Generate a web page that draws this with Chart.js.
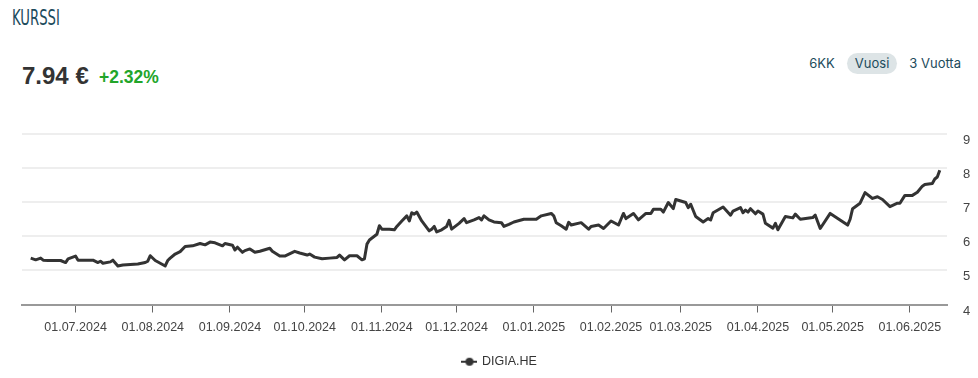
<!DOCTYPE html>
<html lang="fi">
<head>
<meta charset="utf-8">
<title>Kurssi</title>
<script src="https://cdn.jsdelivr.net/npm/chart.js@4.4.0/dist/chart.umd.min.js"></script>
<style>
    html, body { margin: 0; padding: 0; background: #fff; }
    body { width: 978px; height: 378px; position: relative; overflow: hidden; font-family: "Liberation Sans", Arial, sans-serif; }
    .title { position: absolute; left: 12px; top: 6px; font-family: "Liberation Sans Narrow", "DejaVu Sans Condensed", sans-serif; font-size: 21px; color: #1c4b5c; transform: scaleX(0.7); transform-origin: left top; }
    .price { position: absolute; left: 22px; top: 62px; font-size: 24px; font-weight: bold; color: #333; }
    .change { position: absolute; left: 99px; top: 67px; font-size: 17.5px; font-weight: bold; color: #22a52a; }
    .ranges { position: absolute; right: 9px; top: 53px; font-family: Inter, "Open Sans", sans-serif; font-size: 13px; color: #1c4b5c; display: flex; align-items: center; }
    .ranges span { padding: 3px 8px; border-radius: 11px; line-height: 15px; margin-left: 4px; }
    .ranges span.active { background: #dde4e6; }
    #chartBox { position: absolute; left: 0; top: 100px; }
</style>
</head>
<body>
<div class="title">KURSSI</div>
<div class="price">7.94 €</div>
<div class="change">+2.32%</div>
<div class="ranges"><span>6KK</span><span class="active">Vuosi</span><span>3 Vuotta</span></div>
<canvas id="chartBox" width="978" height="278"></canvas>

<script>
// Päivämäärät ja päätöskurssit (luettu kuvasta)
const dates = [
    '2024-06-13','2024-06-15','2024-06-17','2024-06-18','2024-06-20','2024-06-25','2024-06-27','2024-06-28',
    '2024-07-01','2024-07-02','2024-07-08','2024-07-10','2024-07-11','2024-07-12','2024-07-15','2024-07-16',
    '2024-07-18','2024-07-20','2024-07-26','2024-07-29','2024-07-30','2024-07-31',
    '2024-08-02','2024-08-06','2024-08-07','2024-08-08','2024-08-10','2024-08-12','2024-08-14','2024-08-17',
    '2024-08-20','2024-08-22','2024-08-24','2024-08-26','2024-08-29','2024-08-30',
    '2024-09-02','2024-09-03','2024-09-04','2024-09-06','2024-09-07','2024-09-09','2024-09-11','2024-09-13',
    '2024-09-17','2024-09-18','2024-09-21','2024-09-23','2024-09-27','2024-09-29',
    '2024-10-02','2024-10-03','2024-10-05','2024-10-08','2024-10-11','2024-10-14','2024-10-15','2024-10-17',
    '2024-10-19','2024-10-22','2024-10-24','2024-10-25','2024-10-26','2024-10-27','2024-10-30','2024-10-31',
    '2024-11-01','2024-11-04','2024-11-06','2024-11-07','2024-11-09','2024-11-11','2024-11-12','2024-11-13',
    '2024-11-14','2024-11-15','2024-11-17','2024-11-20','2024-11-21','2024-11-22','2024-11-23','2024-11-25',
    '2024-11-27','2024-11-28','2024-11-29',
    '2024-12-02','2024-12-04','2024-12-05','2024-12-08','2024-12-10','2024-12-11','2024-12-12','2024-12-14',
    '2024-12-16','2024-12-19','2024-12-20','2024-12-22','2024-12-24','2024-12-28',
    '2025-01-02','2025-01-04','2025-01-08','2025-01-09','2025-01-10','2025-01-12','2025-01-14','2025-01-15',
    '2025-01-16','2025-01-20','2025-01-23','2025-01-24','2025-01-27','2025-01-29',
    '2025-02-01','2025-02-04','2025-02-05','2025-02-06','2025-02-07','2025-02-10','2025-02-12','2025-02-15',
    '2025-02-17','2025-02-18','2025-02-21','2025-02-22','2025-02-24','2025-02-26','2025-02-27',
    '2025-03-03','2025-03-04','2025-03-05','2025-03-07','2025-03-10','2025-03-12','2025-03-13','2025-03-14',
    '2025-03-18','2025-03-21','2025-03-22','2025-03-25','2025-03-26','2025-03-27','2025-03-28','2025-03-29',
    '2025-03-31','2025-04-01','2025-04-03','2025-04-04','2025-04-07','2025-04-08','2025-04-09','2025-04-12',
    '2025-04-15','2025-04-16','2025-04-18','2025-04-23','2025-04-24','2025-04-26','2025-04-30',
    '2025-05-07','2025-05-08','2025-05-09','2025-05-12','2025-05-14','2025-05-17','2025-05-19','2025-05-21',
    '2025-05-24','2025-05-27','2025-05-28','2025-05-30',
    '2025-06-02','2025-06-04','2025-06-06','2025-06-07','2025-06-10','2025-06-11','2025-06-12','2025-06-13'
];
const prices = [
    5.36,5.31,5.36,5.30,5.29,5.29,5.23,5.34,
    5.42,5.30,5.30,5.23,5.27,5.21,5.25,5.30,
    5.13,5.16,5.19,5.23,5.27,5.43,
    5.29,5.13,5.29,5.36,5.48,5.55,5.70,5.72,
    5.79,5.75,5.83,5.81,5.72,5.79,
    5.74,5.60,5.68,5.53,5.58,5.63,5.53,5.56,
    5.65,5.56,5.42,5.42,5.56,5.51,
    5.45,5.48,5.39,5.34,5.36,5.38,5.45,5.31,
    5.43,5.43,5.31,5.34,5.77,5.89,6.06,6.31,
    6.21,6.21,6.19,6.29,6.45,6.60,6.45,6.69,
    6.65,6.71,6.45,6.16,6.21,6.29,6.13,6.19,
    6.29,6.47,6.21,
    6.38,6.52,6.40,6.48,6.55,6.48,6.60,6.48,
    6.42,6.40,6.29,6.35,6.42,6.50,
    6.50,6.60,6.67,6.60,6.40,6.31,6.21,6.41,
    6.33,6.40,6.21,6.29,6.33,6.23,
    6.45,6.33,6.50,6.67,6.52,6.67,6.48,6.67,
    6.67,6.79,6.79,6.71,6.99,6.81,7.08,
    6.99,6.84,6.94,6.58,6.42,6.52,6.48,6.69,
    6.86,6.62,6.74,6.84,6.69,6.77,6.71,6.81,
    6.66,6.74,6.65,6.38,6.24,6.38,6.19,6.58,
    6.54,6.65,6.50,6.55,6.62,6.23,6.67,
    6.33,6.50,6.81,6.97,7.28,7.11,7.16,7.08,
    6.87,6.97,6.97,7.20,
    7.20,7.29,7.47,7.52,7.55,7.68,7.74,7.94
];
const tickDates = [
    '2024-07-01','2024-08-01','2024-09-01','2024-10-01','2024-11-01','2024-12-01',
    '2025-01-01','2025-02-01','2025-03-01','2025-04-01','2025-05-01','2025-06-01'
];
const yTicks = [4, 5, 6, 7, 8, 9];
const seriesName = 'DIGIA.HE';

const DAY = 86400000;
const points = dates.map((d, i) => ({ x: Date.parse(d), y: prices[i] }));

function fmtDate(v) {
    const d = new Date(v);
    const dd = String(d.getUTCDate()).padStart(2, '0');
    const mm = String(d.getUTCMonth() + 1).padStart(2, '0');
    return dd + '.' + mm + '.' + d.getUTCFullYear();
}

// legendan merkki: viiva + pallo
const marker = document.createElement('canvas');
marker.width = 16; marker.height = 10;
(function () {
    const c = marker.getContext('2d');
    c.strokeStyle = '#333'; c.lineWidth = 2;
    c.beginPath(); c.moveTo(0, 5); c.lineTo(16, 5); c.stroke();
    c.fillStyle = '#333';
    c.beginPath(); c.arc(8, 5, 4, 0, Math.PI * 2); c.fill();
})();

new Chart(document.getElementById('chartBox'), {
    type: 'line',
    data: {
        datasets: [{
            label: seriesName,
            data: points,
            borderColor: '#333333',
            backgroundColor: '#333333',
            borderWidth: 3,
            pointRadius: 0,
            tension: 0,
            borderJoinStyle: 'round'
        }]
    },
    options: {
        responsive: false,
        animation: false,
        layout: { padding: { left: 22, top: 34, right: 0, bottom: 0 } },
        scales: {
            x: {
                type: 'linear',
                min: Date.parse(dates[0]) - 3.5 * DAY,
                max: Date.parse(dates[dates.length - 1]) + 2.9 * DAY,
                afterBuildTicks: s => { s.ticks = tickDates.map(d => ({ value: Date.parse(d) })); },
                afterFit: s => { s.height += 2; },
                ticks: {
                    callback: v => fmtDate(v),
                    color: '#444',
                    font: { family: 'Liberation Sans', size: 12.5 },
                    maxRotation: 0,
                    autoSkip: false,
                    padding: 8
                },
                grid: { drawOnChartArea: false, drawTicks: true, tickLength: 8, color: '#666', lineWidth: 1 },
                border: { display: true, color: '#999', width: 2 }
            },
            y: {
                position: 'right',
                min: 4,
                max: 9,
                afterBuildTicks: s => { s.ticks = yTicks.map(v => ({ value: v })); },
                afterFit: s => { s.width = 31; },
                ticks: {
                    color: '#444',
                    font: { family: 'Liberation Sans', size: 13 },
                    padding: 16,
                    align: 'start'
                },
                grid: { color: '#eeeeee', lineWidth: 2, drawTicks: false },
                border: { display: false }
            }
        },
        plugins: {
            legend: {
                position: 'bottom',
                labels: {
                    usePointStyle: true,
                    pointStyle: marker,
                    color: '#333',
                    font: { family: 'Liberation Sans', size: 12.5 },
                    padding: 10
                }
            },
            tooltip: { enabled: false }
        }
    }
});
</script>
</body>
</html>
